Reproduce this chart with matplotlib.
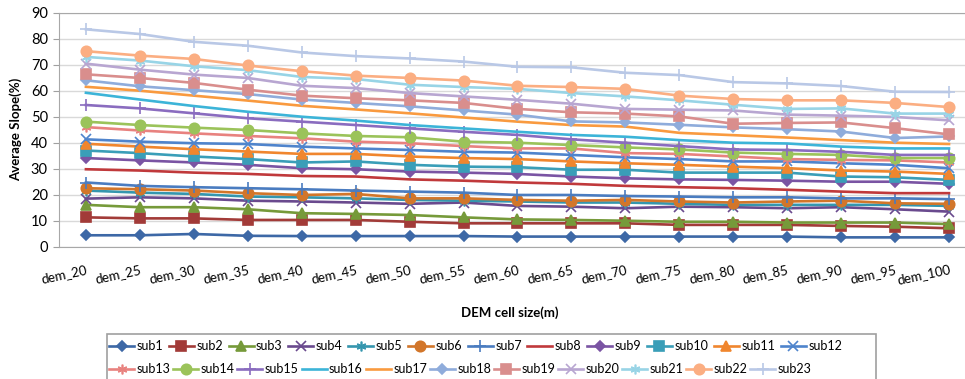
import matplotlib
matplotlib.use("Agg")
import matplotlib.pyplot as plt
from matplotlib.patches import Rectangle
import numpy as np

plt.rcParams['font.family'] = ['Lato', 'DejaVu Sans']

cell_labels = ["dem_20", "dem_25", "dem_30", "dem_35", "dem_40", "dem_45", "dem_50", "dem_55", "dem_60",
               "dem_65", "dem_70", "dem_75", "dem_80", "dem_85", "dem_90", "dem_95", "dem_100"]

sub1 = [4.4, 4.4, 4.9, 4.2, 4.1, 4.1, 4.1, 4.1, 3.9, 3.9, 3.9, 3.9, 3.9, 3.9, 3.6, 3.6, 3.6]
sub2 = [11.3, 10.9, 10.9, 10.3, 10.3, 10.3, 9.6, 9.0, 9.0, 9.0, 9.0, 8.4, 8.4, 8.4, 8.0, 7.7, 7.1]
sub3 = [16.1, 15.2, 15.2, 14.4, 12.9, 12.6, 12.2, 11.3, 10.5, 10.3, 10.0, 9.6, 9.6, 9.3, 9.3, 9.3, 8.7]
sub4 = [18.5, 19.0, 18.6, 17.7, 17.4, 17.0, 16.5, 17.0, 15.7, 15.4, 14.8, 15.4, 15.2, 14.8, 15.2, 14.4, 13.5]
sub5 = [21.6, 20.8, 20.3, 19.3, 19.0, 18.6, 18.0, 17.7, 17.4, 17.0, 17.0, 16.5, 16.1, 16.1, 16.1, 16.1, 15.7]
sub6 = [22.5, 22.1, 21.6, 20.6, 19.9, 20.3, 18.6, 18.6, 18.0, 17.7, 18.0, 17.4, 17.0, 17.4, 17.7, 16.7, 16.5]
sub7 = [24.7, 23.4, 22.9, 22.5, 22.1, 21.6, 21.2, 20.8, 19.9, 19.9, 19.5, 19.3, 19.0, 19.0, 18.6, 18.6, 18.3]
sub8 = [29.8, 29.3, 28.5, 28.0, 27.2, 27.0, 25.9, 25.4, 24.7, 24.2, 23.4, 22.9, 22.5, 21.9, 21.2, 20.6, 20.6]
sub9 = [34.1, 33.2, 32.4, 31.5, 30.2, 29.8, 28.9, 28.5, 28.0, 27.0, 26.3, 25.9, 25.7, 25.4, 25.0, 25.0, 24.2]
sub10 = [37.0, 36.0, 34.7, 33.7, 32.4, 32.8, 31.5, 30.8, 30.6, 29.6, 29.6, 28.5, 28.5, 28.5, 27.0, 26.7, 25.7]
sub11 = [39.6, 38.5, 37.5, 36.6, 35.7, 35.7, 34.7, 34.1, 33.7, 32.8, 32.1, 31.5, 30.8, 30.2, 29.3, 28.9, 28.0]
sub12 = [41.3, 40.4, 39.8, 39.5, 38.5, 37.8, 37.2, 36.5, 36.2, 35.3, 34.4, 33.7, 32.8, 32.8, 32.1, 31.5, 30.2]
sub13 = [46.0, 44.7, 43.6, 42.6, 41.7, 40.4, 39.8, 38.7, 37.8, 37.8, 36.0, 35.7, 34.7, 33.7, 33.4, 33.2, 32.4]
sub14 = [48.1, 46.8, 45.8, 44.9, 43.6, 42.6, 42.1, 40.4, 40.0, 39.1, 38.2, 37.4, 36.2, 35.7, 35.3, 34.1, 34.1]
sub15 = [54.5, 53.2, 51.3, 49.4, 48.1, 46.8, 45.5, 44.2, 43.0, 41.3, 40.0, 38.7, 37.4, 37.2, 36.5, 35.3, 35.3]
sub16 = [59.2, 56.6, 54.1, 51.9, 50.0, 48.5, 46.8, 45.5, 44.2, 43.0, 42.3, 41.0, 40.0, 39.7, 38.5, 37.8, 37.8]
sub17 = [61.5, 60.0, 58.1, 56.2, 54.2, 52.8, 51.3, 49.7, 48.1, 46.8, 46.2, 43.8, 42.9, 42.0, 41.0, 40.0, 39.5]
sub18 = [64.0, 61.7, 60.2, 58.7, 56.6, 55.3, 54.0, 52.4, 50.8, 48.2, 47.8, 46.9, 45.9, 45.2, 44.3, 41.8, 42.4]
sub19 = [66.3, 64.9, 63.0, 60.4, 58.1, 57.1, 56.3, 55.3, 53.0, 51.7, 51.2, 50.1, 47.3, 47.6, 47.8, 45.6, 43.2]
sub20 = [70.4, 68.1, 66.2, 64.9, 61.9, 61.0, 59.1, 57.8, 56.5, 55.0, 53.0, 52.7, 52.4, 50.8, 50.4, 49.9, 48.6]
sub21 = [73.0, 71.6, 69.4, 67.9, 65.3, 64.5, 62.3, 61.4, 60.7, 59.1, 57.8, 56.3, 54.6, 53.0, 53.2, 51.2, 51.2]
sub22 = [75.2, 73.5, 72.2, 69.7, 67.5, 65.8, 64.9, 63.9, 61.9, 61.4, 60.7, 58.1, 56.8, 56.3, 56.3, 55.3, 53.7]
sub23 = [83.6, 81.8, 78.8, 77.3, 74.7, 73.3, 72.4, 71.2, 69.2, 69.0, 66.9, 66.0, 63.3, 62.8, 61.8, 59.6, 59.5]

series = [sub1, sub2, sub3, sub4, sub5, sub6, sub7, sub8, sub9, sub10, sub11, sub12,
          sub13, sub14, sub15, sub16, sub17, sub18, sub19, sub20, sub21, sub22, sub23]
names = ["sub%d" % (i + 1) for i in range(len(series))]

colors = ['#3D68A6', '#A23B38', '#769A3A', '#6A4A8E', '#3596AE', '#D2762A',
          '#4A7CC0', '#C0393B', '#7A54A3', '#3A9EB8', '#F0862E', '#4F84CC',
          '#E8827F', '#9BC35A', '#8A6CBF', '#3CB4D8', '#F99A3F', '#8FACDB',
          '#D98E8D', '#B8A6D1', '#98D4E6', '#FBAE82', '#B9C8E6']
markers = ['D', 's', '^', 'x', (6, 2, 0), 'o', '+', None,
           'D', 's', '^', 'x', (6, 2, 0), 'o', '+', None,
           None, 'D', 's', 'x', (6, 2, 0), 'o', '+']
msizes = [5, 7, 7, 7, 7, 7.5, 8, 0, 5, 7, 7, 7, 7, 7.5, 8, 0, 0, 5, 7, 7, 7, 7.5, 8]

fig = plt.figure(figsize=(9.65, 3.79), dpi=100)
ax = fig.add_axes([0.0611, 0.349, 0.9503, 0.6175])

x = np.arange(len(cell_labels))
handles = []
for s, n, c, m, ms in zip(series, names, colors, markers, msizes):
    h, = ax.plot(x, s, color=c, lw=1.9, marker=m, markersize=ms, markeredgewidth=1.2,
                 markeredgecolor=c, markerfacecolor=c, label=n)
    handles.append(h)

ax.set_xlim(-0.5, len(cell_labels) - 0.5)
ax.set_ylim(0, 90)
ax.set_yticks(np.arange(0, 91, 10))
ax.yaxis.grid(True, color='#D9D9D9', lw=1)
ax.set_axisbelow(True)
ax.set_xticks(x)
ax.set_xticklabels(cell_labels, rotation=12, ha='right', rotation_mode='anchor', fontsize=9.5)
ax.tick_params(axis='x', length=0, pad=12)
ax.tick_params(axis='y', length=4, color='#A0A0A0', labelsize=10.5, pad=4)
for sp in ['left', 'bottom', 'top']:
    ax.spines[sp].set_color('#A8A8A8')
ax.spines['right'].set_visible(False)

ax.set_ylabel("Average Slope(%)", fontsize=9.5, fontweight='bold', labelpad=6)
fig.text(0.528, 0.175, "DEM cell size(m)", fontsize=9.5, fontweight='bold', ha='center', va='center')

# two single-row legends so each row flows like the original
leg_kw = dict(loc='center left', fontsize=9, frameon=False, handlelength=2.0,
              handletextpad=0.2, borderpad=0, borderaxespad=0)
leg1 = fig.legend(handles[:12], names[:12], ncol=12, columnspacing=0.45,
                  bbox_to_anchor=(0.113, 1 - 346 / 379), **leg_kw)
leg2 = fig.legend(handles[12:], names[12:], ncol=11, columnspacing=0.22,
                  bbox_to_anchor=(0.113, 1 - 369 / 379), **leg_kw)
fig.patches.append(Rectangle((107 / 965, -0.05), (876 - 107) / 965, 0.05 + (379 - 334) / 379,
                             transform=fig.transFigure, fill=False, edgecolor='#A0A0A0', lw=1.2))

fig.savefig("out.png", dpi=100)
